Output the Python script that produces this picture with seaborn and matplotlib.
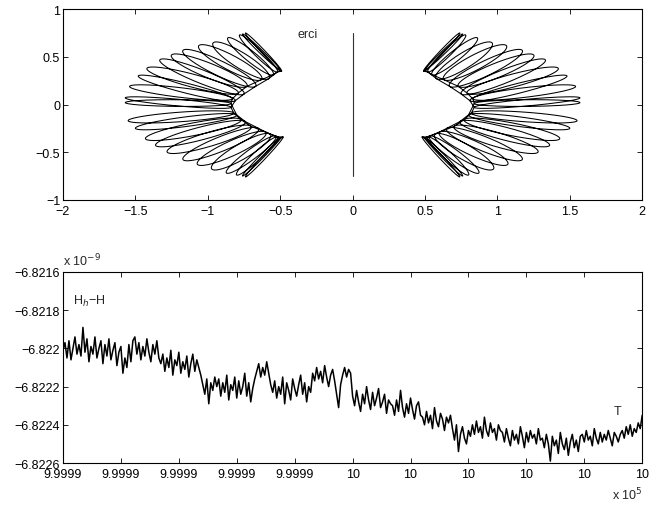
import numpy as np
import matplotlib
matplotlib.use("Agg")
import matplotlib.pyplot as plt
import seaborn as sns

sns.set_theme(style="white")
plt.rcParams['font.family'] = ['Liberation Sans', 'DejaVu Sans']
plt.rcParams['axes.unicode_minus'] = True

# ---- top panel: loop tips (left half, mirrored for right)
# pass A, top -> bottom
a_out_x = [-0.74, -0.78, -0.96, -1.17, -1.33, -1.48, -1.57, -1.55, -1.43, -1.28, -1.07, -0.87, -0.76]
a_out_y = [0.75, 0.73, 0.65, 0.57, 0.47, 0.30, 0.07, -0.17, -0.36, -0.50, -0.63, -0.72, -0.75]
a_in_x = [-0.49, -0.52, -0.58, -0.67, -0.75, -0.81, -0.84, -0.82, -0.77, -0.70, -0.60, -0.53, -0.50]
a_in_y = [0.35, 0.34, 0.27, 0.19, 0.11, 0.04, -0.03, -0.09, -0.16, -0.23, -0.29, -0.33, -0.35]
a_w = [0.015, 0.03, 0.07, 0.07, 0.065, 0.05, 0.035, 0.05, 0.065, 0.07, 0.07, 0.045, 0.015]
# pass B, bottom -> top
b_out_x = [-0.74, -0.80, -0.97, -1.17, -1.36, -1.50, -1.57, -1.54, -1.42, -1.25, -1.06, -0.86, -0.76]
b_out_y = [-0.76, -0.74, -0.68, -0.58, -0.43, -0.25, 0.02, 0.19, 0.38, 0.52, 0.62, 0.70, 0.74]
b_in_x = [-0.48, -0.52, -0.57, -0.65, -0.74, -0.80, -0.84, -0.83, -0.79, -0.73, -0.63, -0.55, -0.50]
b_in_y = [-0.34, -0.34, -0.31, -0.25, -0.18, -0.11, 0.01, 0.06, 0.12, 0.19, 0.26, 0.31, 0.36]
b_w = [0.015, 0.035, 0.07, 0.07, 0.065, 0.05, 0.035, 0.05, 0.065, 0.07, 0.07, 0.045, 0.015]
# the body on the y axis
mid_y = [-0.75, 0.75]

# ---- bottom panel: H_h - H, offsets in 1e-14 below -6.822e-9
hh_off = [
    1, -3, 5, -4, 6, 0, -6, 3, -2, 4, -11, 2, -5, 7, -1, 3, -6, 5, 0, -4, 8, -2, 4, -5, 6,
    1, -3, 9, 2, -1, 13, 5, 10, -2, 7, -4, -6, 3, -3, 6, -1, 4, -5, 2, 7, -2, 3, -4, 5,
    8, 3, 12, 5, 10, 1, 14, 6, 9, 2, 13, 7, 11, 4, 15, 8, 3, 12, 6, 10,
    14, 19, 24, 16, 29, 18, 22, 15,
    20, 16, 25, 18, 23, 14, 27, 19, 22, 15, 26, 17, 24, 20, 13, 25, 18, 28, 21, 16,
    12, 8, 15, 10, 14, 7, 13, 19, 23, 17, 26, 20, 24, 15, 29, 18, 22, 27, 16, 21, 25, 19, 14, 24, 18, 28, 20, 23,
    13, 17, 10, 16, 12, 18, 9, 15, 20, 14, 11, 17, 24, 31, 19, 14, 10, 15, 11, 13,
    25, 30, 22, 28, 33, 24, 29, 20, 27, 32, 23, 30, 26, 21, 31, 28, 24, 34, 27, 29,
    30, 35, 27, 33, 22, 31, 36, 29, 34, 26, 32, 37, 30, 28, 35,
    36, 40, 33, 39, 35, 42, 31, 38, 41, 34, 37, 43, 36, 39, 35,
    42, 48, 40, 54, 45, 41, 47, 50, 43, 46,
    40, 45, 38, 44, 41, 47, 36, 43, 46, 39, 44, 42, 48, 40, 43,
    44, 49, 42, 47, 51, 43, 48, 45, 50, 41, 46, 52, 44, 49, 43, 47, 45, 50, 42, 48,
    47, 52, 45, 50, 59, 46, 51, 48, 55, 44, 50, 53, 47, 56, 49, 45, 52, 48, 54, 46,
    45, 49, 43, 48, 46, 51, 42, 47, 50, 44, 49, 45, 48, 43, 47, 51, 44, 46, 49, 45,
    43, 47, 41, 45, 40, 46, 42, 44, 39, 42, 35,
]
hh_base = -6.822
t_start, t_end = 9.9999, 10.0  # x 10^5

xticks_bot = np.round(np.arange(11) * 1e-5 + t_start, 6)
yticks_bot = [-6.8226, -6.8224, -6.8222, -6.822, -6.8218, -6.8216]


def loop_curve(ox, oy, ix, iy, ws, n=100):
    xs, ys = [], []
    th = np.linspace(np.pi, 3 * np.pi, n)
    for x1, y1, x0, y0, w in zip(ox, oy, ix, iy, ws):
        cx, cy = (x1 + x0) / 2, (y1 + y0) / 2
        ux, uy = (x1 - x0) / 2, (y1 - y0) / 2
        L = np.hypot(ux, uy)
        px, py = -uy / L * w, ux / L * w
        xs.append(cx + ux * np.cos(th) + px * np.sin(th))
        ys.append(cy + uy * np.cos(th) + py * np.sin(th))
    return np.concatenate(xs), np.concatenate(ys)


ax_x, ax_y = loop_curve(a_out_x, a_out_y, a_in_x, a_in_y, a_w)
bx_x, bx_y = loop_curve(b_out_x, b_out_y, b_in_x, b_in_y, b_w)
lx = np.concatenate([ax_x, bx_x])
ly = np.concatenate([ax_y, bx_y])

fig = plt.figure(figsize=(6.56, 5.06), dpi=100)
ax1 = fig.add_axes([0.096, 0.603, 0.883, 0.377])
ax2 = fig.add_axes([0.096, 0.083, 0.883, 0.3775])

kw = dict(sort=False, estimator=None, color='black', linewidth=0.75, legend=False)
sns.lineplot(x=lx, y=ly, ax=ax1, **kw)
sns.lineplot(x=-lx, y=ly, ax=ax1, **kw)
sns.lineplot(x=[0, 0], y=mid_y, ax=ax1, sort=False, estimator=None,
             color='#333333', linewidth=0.8, legend=False)
ax1.set_xlim(-2, 2)
ax1.set_ylim(-1, 1)
ax1.set_xticks(np.arange(-2, 2.01, 0.5))
ax1.set_xticklabels(['−2', '−1.5', '−1', '−0.5', '0', '0.5', '1', '1.5', '2'])
ax1.set_yticks([-1, -0.5, 0, 0.5, 1])
ax1.set_yticklabels(['−1', '−0.5', '0', '0.5', '1'])
ax1.text(-0.31, 0.74, 'erci', fontsize=9, ha='center', va='center')

t = np.linspace(t_start, t_end, len(hh_off))
hh = hh_base - np.array(hh_off) * 1e-5
sns.lineplot(x=t, y=hh, ax=ax2, sort=False, estimator=None,
             color='black', linewidth=1.1, legend=False)
ax2.set_xlim(t_start, t_end)
ax2.set_ylim(-6.8226, -6.8216)
ax2.set_xticks(xticks_bot)
ax2.set_xticklabels([f"{v:.5g}" for v in xticks_bot])
ax2.set_yticks(yticks_bot)
ax2.set_yticklabels([f"{v:g}".replace('-', '−') for v in yticks_bot])
ax2.text(0.017, 0.85, r'H$_h$−H', transform=ax2.transAxes, fontsize=9,
         ha='left', va='center')
ax2.text(0.957, 0.27, 'T', transform=ax2.transAxes, fontsize=9,
         ha='center', va='center')
ax2.text(0.0, 1.02, r'x 10$^{-9}$', transform=ax2.transAxes, fontsize=9,
         ha='left', va='bottom')
ax2.text(1.0, -0.12, r'x 10$^{5}$', transform=ax2.transAxes, fontsize=9,
         ha='right', va='top')

for ax in (ax1, ax2):
    ax.set_xlabel('')
    ax.set_ylabel('')
    ax.tick_params(direction='in', length=3.5, width=0.6, top=True, right=True,
                   bottom=True, left=True, labelsize=9, colors='black', pad=2)
    ax.tick_params(axis='x', pad=3.5)
    for s in ax.spines.values():
        s.set_color('black')
        s.set_linewidth(0.8)

fig.savefig('out.png', dpi=100)
